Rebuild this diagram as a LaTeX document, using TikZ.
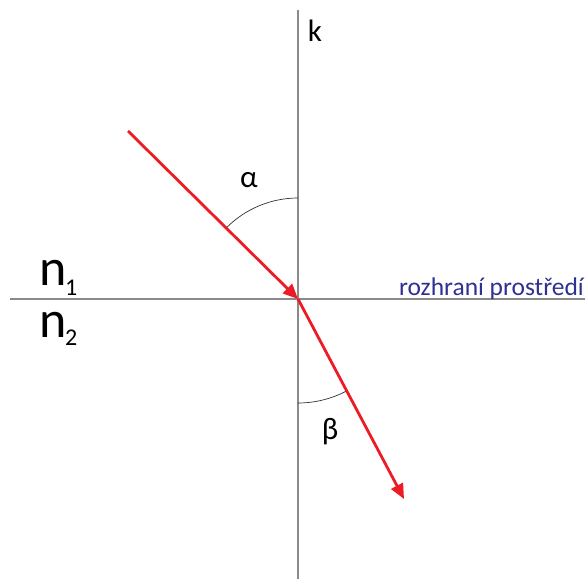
\documentclass[tikz,border=0pt]{standalone}
\usepackage{fontspec}
\setmainfont{Carlito}
\usetikzlibrary{arrows.meta}
\definecolor{rayred}{HTML}{ED1C24}
\definecolor{axisgrey}{HTML}{8A8A8A}
\definecolor{bluetext}{HTML}{2E3192}
\begin{document}
\begin{tikzpicture}[x=1pt,y=-1pt,
  axis/.style={draw=axisgrey,line width=1.5pt},
  ray/.style={draw=rayred,line width=2.8pt,-{Triangle[length=15pt,width=13pt]}},
  anglearc/.style={draw=black!80,line width=0.7pt},
  lbl/.style={inner sep=0pt,font=\fontsize{31}{34}\selectfont},
  bigtext/.style={inner sep=0pt,anchor=base west,font=\fontsize{52}{56}\selectfont},
  subtext/.style={inner sep=0pt,anchor=base west,font=\fontsize{24}{26}\selectfont}]
\useasboundingbox (0,0) rectangle (586,580);
\coordinate (O) at (298,299);
\coordinate (top) at (298,10);
\coordinate (bot) at (298,579);
\coordinate (left) at (10,299);
\coordinate (right) at (585,299);
\coordinate (src) at (128,131);
\coordinate (dst) at (404,499);
\draw[axis] (top) -- (bot);
\draw[axis] (left) -- (right);
\draw[anglearc] (298,198) arc[start angle=-90,end angle=-135.3,radius=101];
\draw[anglearc] (298,403) arc[start angle=90,end angle=62.2,radius=104];
\draw[ray] (src) -- (O);
\draw[ray] (O) -- (dst);
\node[lbl] (k) at (315,31) {k};
\node[lbl] (alpha) at (249,180) {α};
\node[lbl] (beta) at (330,432) {β};
\node[inner sep=0pt,anchor=base east,text=bluetext,font=\fontsize{25.5}{28}\selectfont] (rozh) at (584,295) {rozhraní prostředí};
\node[bigtext] (n1) at (39,285) {n};
\node[subtext] (s1) at (65,295) {1};
\node[bigtext] (n2) at (39,337) {n};
\node[subtext] (s2) at (65,345) {2};
\end{tikzpicture}
\end{document}
